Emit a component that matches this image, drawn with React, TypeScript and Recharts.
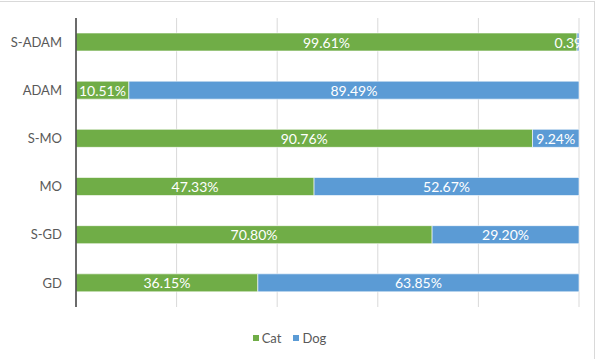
import React from 'react';
import {
    BarChart,
    Bar,
    XAxis,
    YAxis,
    CartesianGrid,
    Legend,
    LabelList
} from 'recharts';

const CATEGORIES = ['S-ADAM', 'ADAM', 'S-MO', 'MO', 'S-GD', 'GD'];
const CAT_VALUES = [99.61, 10.51, 90.76, 47.33, 70.8, 36.15];
const DOG_VALUES = [0.39, 89.49, 9.24, 52.67, 29.2, 63.85];
const X_TICKS = [0, 20, 40, 60, 80, 100];

const COLORS = {
    cat: '#70AD47',
    dog: '#5B9BD5',
    grid: '#D9D9D9',
    axis: '#404040',
    text: '#595959',
    border: '#D9D9D9',
};

const CHART_W = 601;
const CHART_H = 359;
const FONT = 'Lato, "Open Sans", sans-serif';

const data = CATEGORIES.map((name, i) => ({
    name,
    cat: CAT_VALUES[i],
    dog: DOG_VALUES[i],
}));

// centered white value label; pushed left when it would run off the chart,
// and clipped at the end of its own bar segment
const renderValueLabel = (props: any) => {
    const { x, y, width, height, value } = props;
    const text = `${Number(value).toFixed(2)}%`;
    const half = text.length * 4;
    const cx = Math.min(x + width / 2, CHART_W - 7 - half);
    return (
        <svg x={0} y={0} width={x + width} height={CHART_H} overflow="hidden">
            <text
                x={cx}
                y={y + height / 2}
                textAnchor="middle"
                dominantBaseline="central"
                fill="#FFFFFF"
                fontSize={14}
                fontFamily={FONT}
            >
                {text}
            </text>
        </svg>
    );
};

const renderLegend = () => (
    <div style={{ display: 'flex', justifyContent: 'center', gap: 12, fontFamily: FONT, fontSize: 13, color: COLORS.text }}>
        {[
            { label: 'Cat', color: COLORS.cat },
            { label: 'Dog', color: COLORS.dog },
        ].map((item) => (
            <div key={item.label} style={{ display: 'flex', alignItems: 'center', gap: 3 }}>
                <div style={{ width: 6, height: 6, background: item.color }}></div>
                <span>{item.label}</span>
            </div>
        ))}
    </div>
);

const App: React.FC = () => {
    return (
        <div style={{ position: 'absolute', left: 0, top: 0, width: CHART_W, height: CHART_H, background: '#fff' }}>
            <div
                style={{
                    position: 'absolute',
                    left: -1,
                    top: 1,
                    width: 596,
                    height: 358,
                    boxSizing: 'border-box',
                    border: `1px solid ${COLORS.border}`,
                    borderBottom: 'none',
                }}
            ></div>
            <BarChart
                width={CHART_W}
                height={CHART_H}
                data={data}
                layout="vertical"
                margin={{ top: 18, right: 22, left: 0, bottom: 32 }}
                barSize={18}
            >
                <CartesianGrid horizontal={false} stroke={COLORS.grid} />
                <XAxis type="number" domain={[0, 100]} ticks={X_TICKS} hide />
                <YAxis
                    type="category"
                    dataKey="name"
                    width={76}
                    axisLine={{ stroke: COLORS.axis, strokeWidth: 1.5 }}
                    tickLine={false}
                    tickSize={0}
                    tickMargin={14}
                    tick={{ fontSize: 13, fill: COLORS.text, fontFamily: FONT }}
                />
                <Legend
                    verticalAlign="bottom"
                    height={20}
                    wrapperStyle={{ top: 330 }}
                    content={renderLegend}
                />
                <Bar dataKey="cat" stackId="a" fill={COLORS.cat} stroke="#FFFFFF" strokeWidth={0.6} isAnimationActive={false}>
                    <LabelList dataKey="cat" content={renderValueLabel} />
                </Bar>
                <Bar dataKey="dog" stackId="a" fill={COLORS.dog} stroke="#FFFFFF" strokeWidth={0.6} isAnimationActive={false}>
                    <LabelList dataKey="dog" content={renderValueLabel} />
                </Bar>
            </BarChart>
        </div>
    );
};

export default App;
